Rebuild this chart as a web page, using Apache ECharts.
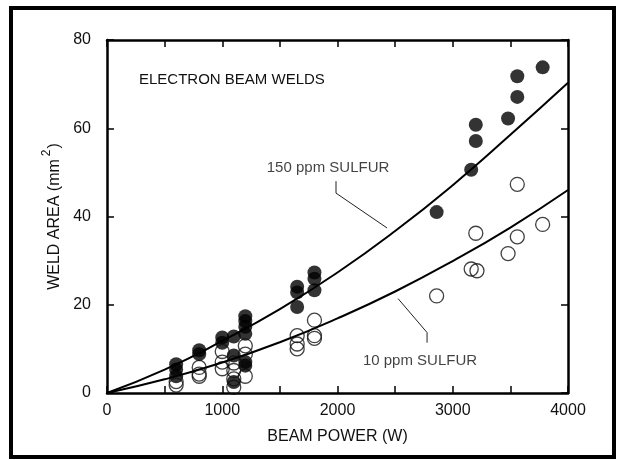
<!DOCTYPE html>
<html>
<head>
<meta charset="utf-8">
<script src="https://cdn.jsdelivr.net/npm/echarts@6/dist/echarts.min.js"></script>
<style>
  html, body { margin: 0; padding: 0; background: #fff; }
  #main { width: 618px; height: 460px; }
</style>
</head>
<body>
<div id="main"></div>
<script>
// beam power (W), weld area (mm2)
var sulfur150 = [
  [600, 6.5], [600, 5.3], [600, 3.8], [800, 9.7], [800, 8.8],
  [1000, 12.6], [1000, 11.4], [1100, 12.8], [1100, 8.5], [1100, 2.5],
  [1200, 17.4], [1200, 16.3], [1200, 15.0], [1200, 13.4], [1200, 7.0], [1200, 6.2],
  [1650, 24.1], [1650, 22.8], [1650, 19.5], [1800, 27.3], [1800, 25.9], [1800, 23.3],
  [2860, 41.0], [3160, 50.6], [3200, 57.1], [3200, 60.8], [3480, 62.2],
  [3560, 67.1], [3560, 71.8], [3780, 73.8]
];
var sulfur10 = [
  [600, 2.6], [600, 1.8], [800, 5.8], [800, 4.3], [800, 3.8],
  [1000, 9.4], [1000, 7.0], [1000, 5.5], [1100, 6.8], [1100, 5.1], [1100, 3.2], [1100, 1.3],
  [1200, 10.7], [1200, 8.8], [1200, 3.8], [1650, 13.0], [1650, 11.1], [1650, 10.0],
  [1800, 16.5], [1800, 13.0], [1800, 12.4], [2860, 22.0], [3160, 28.1], [3210, 27.7],
  [3200, 36.2], [3480, 31.6], [3560, 35.4], [3560, 47.3], [3780, 38.2]
];
// fitted curves, read at 500 W steps
var curvePower = [0, 500, 1000, 1500, 2000, 2500, 3000, 3500, 4000];
var curve150 = [0, 5.3, 11.8, 19.0, 27.3, 36.7, 47.1, 58.5, 70.3];
var curve10 = [0, 3.1, 6.9, 11.5, 16.9, 23.0, 29.9, 37.5, 46.0];
// labels and their leader lines (data units)
var label150 = [1918, 51, '150 ppm SULFUR'];
var leader150 = [[1987, 48.0], [1987, 45.3], [2430, 37.4]];
var label10 = [2716, 7.3, '10 ppm SULFUR'];
var leader10 = [[2777, 11.4], [2777, 13.7], [2525, 21.4]];

var FONT = '"Liberation Sans", Arial, sans-serif';

function pairs(xs, ys) {
  var out = [];
  for (var i = 0; i < xs.length; i++) {
    out.push([xs[i], ys[i]]);
  }
  return out;
}

var chart = echarts.init(document.getElementById('main'));

function axisBase() {
  return {
    type: 'value',
    axisLine: { show: true, onZero: false, lineStyle: { color: '#000', width: 2.5 } },
    axisTick: { show: true, inside: true, length: 7, lineStyle: { color: '#000', width: 1.5 } },
    splitLine: { show: false }
  };
}

var option = {
  backgroundColor: '#fff',
  animation: false,
  textStyle: { fontFamily: FONT },
  grid: { left: 107, right: 50, top: 40, bottom: 67, show: false },
  graphic: [
    {
      type: 'rect',
      shape: { x: 11, y: 8, width: 603, height: 449 },
      style: { fill: 'none', stroke: '#000', lineWidth: 4 },
      silent: true
    },
    {
      type: 'text',
      left: 139,
      top: 72,
      style: { text: 'ELECTRON BEAM WELDS', fontSize: 15, fontFamily: FONT, fill: '#111' }
    }
  ],
  xAxis: [
    Object.assign(axisBase(), {
      min: 0, max: 4000, interval: 500,
      name: 'BEAM POWER (W)',
      nameLocation: 'middle',
      nameGap: 36,
      nameTextStyle: { fontSize: 16, color: '#111', fontFamily: FONT },
      axisLabel: {
        margin: 10, fontSize: 16, color: '#111',
        formatter: function (v) { return v % 1000 === 0 ? String(v) : ''; }
      }
    }),
    Object.assign(axisBase(), {
      position: 'top', min: 0, max: 4000, interval: 500,
      axisLabel: { show: false }
    })
  ],
  yAxis: [
    Object.assign(axisBase(), {
      min: 0, max: 80, interval: 20,
      name: '{n|WELD AREA (mm}{s|2}{n|)}',
      nameLocation: 'middle',
      nameGap: 44,
      nameTextStyle: {
        fontSize: 16, color: '#111', fontFamily: FONT,
        rich: {
          n: { fontSize: 16, color: '#111', fontFamily: FONT, lineHeight: 22, verticalAlign: 'bottom' },
          s: { fontSize: 12, color: '#111', fontFamily: FONT, lineHeight: 22, verticalAlign: 'top', padding: [0, 1, 0, 3] }
        }
      },
      axisLabel: { margin: 16, fontSize: 16, color: '#111' }
    }),
    Object.assign(axisBase(), {
      position: 'right', min: 0, max: 80, interval: 20,
      axisLabel: { show: false }
    })
  ],
  series: [
    {
      name: '150 ppm fit', type: 'line', smooth: true, showSymbol: false, silent: true,
      data: pairs(curvePower, curve150),
      lineStyle: { color: '#000', width: 2 }
    },
    {
      name: '10 ppm fit', type: 'line', smooth: true, showSymbol: false, silent: true,
      data: pairs(curvePower, curve10),
      lineStyle: { color: '#000', width: 2 }
    },
    {
      name: '150 ppm', type: 'scatter', symbolSize: 14,
      data: sulfur150,
      itemStyle: { color: '#000' }
    },
    {
      name: '10 ppm', type: 'scatter', symbolSize: 14,
      data: sulfur10,
      itemStyle: { color: 'rgba(255,255,255,0)', borderColor: '#111', borderWidth: 1.3 }
    },
    {
      type: 'line', showSymbol: false, silent: true,
      data: leader150, lineStyle: { color: '#222', width: 1 }
    },
    {
      type: 'line', showSymbol: false, silent: true,
      data: leader10, lineStyle: { color: '#222', width: 1 }
    },
    {
      type: 'scatter', symbolSize: 0, silent: true,
      data: [label150, label10],
      label: {
        show: true, position: 'inside', fontSize: 15, color: '#111', fontFamily: FONT,
        formatter: function (p) { return p.data[2]; }
      }
    }
  ]
};

chart.setOption(option);
</script>
</body>
</html>
